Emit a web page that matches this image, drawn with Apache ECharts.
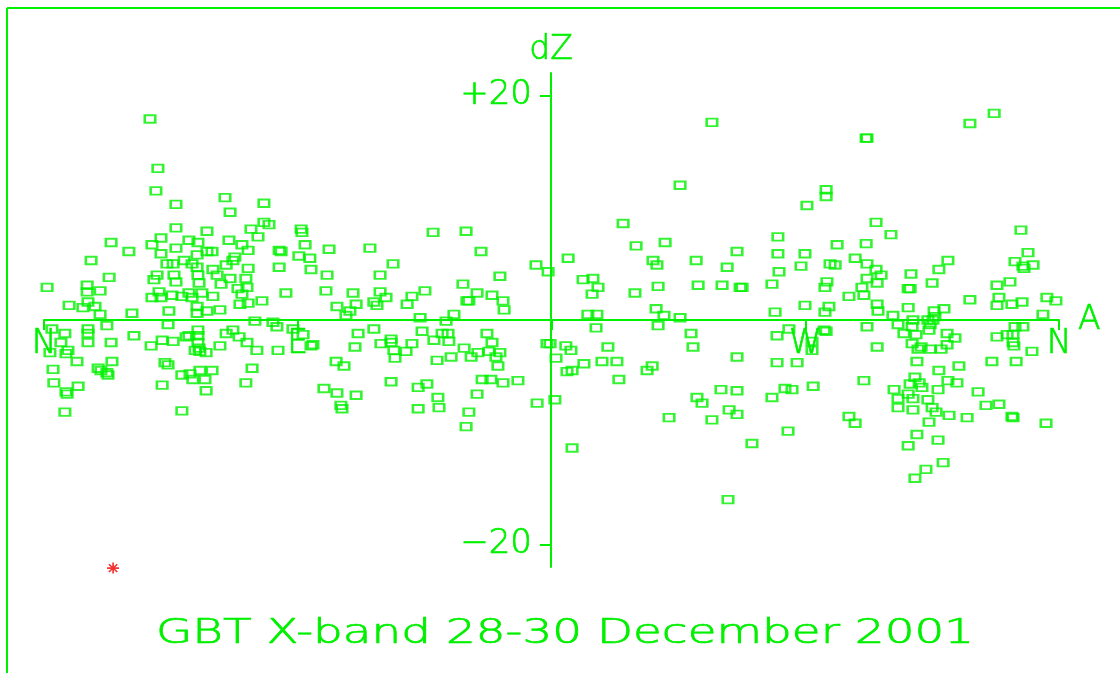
<!DOCTYPE html>
<html>
<head>
<meta charset="utf-8">
<script src="https://cdn.jsdelivr.net/npm/echarts@6/dist/echarts.min.js"></script>
<style>html,body{margin:0;padding:0;background:#ffffff}#chart{width:1120px;height:673px}</style>
</head>
<body>
<div id="chart"></div>
<script>
// Azimuth (degrees) of each pointing offset measurement
const azimuthDeg = [
37.6,40.4,39.7,46.8,64.2,78.0,66.0,46.8,57.8,78.0,
79.8,73.4,75.9,23.8,41.5,38.3,51.4,54.6,65.6,70.2,
30.1,46.8,41.5,57.8,59.6,72.4,83.4,84.1,16.7,49.7,
54.3,67.7,67.0,43.6,45.8,52.5,54.3,64.6,59.9,72.4,
83.4,23.1,40.1,46.1,54.6,61.4,66.0,71.6,39.0,46.8,
55.0,62.8,68.8,72.0,1.1,15.3,15.3,19.9,40.8,38.3,
41.5,45.4,48.9,51.4,52.5,56.0,59.9,70.2,85.8,8.9,
15.6,13.8,18.1,19.9,31.2,44.3,54.3,54.3,57.8,62.4,
69.5,72.4,77.3,74.8,81.2,2.8,7.4,6.0,15.6,15.6,
15.6,22.3,23.8,2.1,8.5,7.8,11.7,3.2,19.2,20.2,
24.1,22.3,22.7,3.5,12.1,7.8,8.2,7.4,31.9,38.0,
41.9,45.8,44.0,50.4,51.4,54.6,54.6,54.6,55.0,53.6,
55.3,57.5,62.4,64.6,67.0,69.2,72.0,75.5,82.6,83.0,
42.9,44.0,48.9,51.8,52.8,55.3,57.1,59.6,57.5,41.9,
48.9,73.8,71.6,91.2,91.5,92.6,90.4,94.3,94.7,101.1,
100.4,100.0,103.9,109.6,110.7,108.5,107.1,115.6,123.8,119.2,
119.2,121.3,117.0,118.1,130.5,128.8,135.1,133.4,138.0,149.7,
155.0,148.6,153.6,150.0,150.7,145.4,142.6,158.9,162.8,163.2,
161.7,174.5,178.8,88.3,91.9,94.7,95.4,111.4,117.0,110.3,
119.5,123.1,123.1,124.1,124.5,128.4,130.5,103.6,106.4,134.1,
138.3,141.2,143.3,143.6,139.4,144.4,149.0,151.5,153.9,157.1,
158.9,157.8,161.7,160.3,161.0,155.4,158.5,162.8,168.1,153.6,
99.3,103.9,110.7,105.3,105.7,123.1,132.7,135.8,139.7,140.1,
132.7,150.7,149.7,174.9,178.4,179.5,181.6,181.2,236.9,225.6,
270.6,277.4,277.4,205.4,260.3,210.0,220.3,245.8,185.9,216.0,
217.4,231.3,260.3,269.9,268.5,242.3,260.7,191.2,194.7,196.5,
194.4,209.6,217.8,232.0,240.5,246.9,247.6,258.2,269.9,259.3,
192.9,196.1,217.1,219.9,225.6,195.8,217.8,229.5,230.2,185.1,
186.9,185.5,187.3,191.5,200.0,197.9,203.2,203.9,213.9,215.7,
187.3,221.7,231.6,233.4,240.1,245.8,243.0,245.8,236.9,245.8,
260.0,264.2,260.0,267.1,272.4,272.4,276.7,258.2,262.8,265.3,
272.8,263.9,251.1,242.6,337.0,328.4,291.6,291.9,295.1,300.4,
281.3,291.6,346.5,349.0,287.7,291.9,278.8,280.6,320.6,317.4,
344.4,347.2,350.8,347.6,295.1,296.9,307.5,291.9,295.5,277.7,
277.0,290.1,290.8,285.5,306.5,307.2,315.0,338.0,342.6,338.7,
328.4,338.0,343.3,346.9,355.7,358.9,278.4,277.0,295.5,295.8,
306.5,301.1,319.2,315.7,354.3,308.2,307.9,313.5,315.3,314.3,
313.9,316.0,277.4,291.9,302.9,305.0,309.3,320.3,323.1,307.9,
311.1,310.0,314.3,318.2,320.3,309.6,295.5,338.0,341.6,344.4,
347.2,343.7,343.7,344.0,350.4,336.2,344.8,324.5,317.4,290.8,
308.9,307.2,310.4,311.4,320.6,323.8,301.5,317.1,306.5,302.9,
308.2,313.5,331.3,302.9,308.2,315.0,316.4,334.1,338.7,321.0,
327.4,313.9,285.5,287.7,343.3,343.7,355.4,309.6,306.5,317.1,
318.9,312.8,308.9
];

// Elevation offset dZ (arcsec) matching azimuthDeg
const dZarcsec = [
17.9,13.5,11.5,10.3,10.9,10.4,9.6,8.2,7.9,8.7,
8.5,8.1,7.4,6.9,7.3,6.7,7.1,6.9,7.1,6.7,
6.1,6.4,5.9,6.1,6.1,6.2,6.2,6.1,5.3,5.3,
5.8,5.6,5.3,5.0,5.0,5.0,4.7,4.9,4.5,4.6,
4.7,3.8,4.0,4.0,4.0,4.0,3.7,3.7,3.6,3.4,
3.3,3.2,2.8,2.9,2.9,3.1,2.5,2.6,2.5,2.0,
2.0,2.2,2.1,2.4,2.0,2.4,2.1,2.3,2.4,1.3,
1.6,1.1,1.2,0.5,0.6,0.8,1.2,0.6,0.8,0.9,
1.4,1.5,1.7,-0.1,-0.2,-0.8,-1.2,-2.0,-0.8,-1.2,
-2.0,-0.5,-2.0,-2.9,-2.7,-3.0,-3.7,-4.4,-4.3,-4.5,
-3.7,-4.7,-4.9,-5.6,-5.9,-6.4,-6.6,-8.2,-1.4,-2.3,
-1.8,-1.9,-0.4,-1.5,-1.4,-0.9,-1.4,-2.0,-2.5,-2.7,
-2.8,-2.9,-2.3,-1.2,-0.9,-1.5,-2.0,-2.7,-0.6,-2.7,
-3.8,-4.0,-4.9,-4.8,-5.3,-4.5,-5.3,-4.5,-6.3,-5.8,
-8.1,-4.3,-5.6,8.1,7.8,6.7,5.7,5.5,4.5,6.3,
4.0,2.6,1.2,2.4,1.4,0.8,0.4,6.4,5.0,4.0,
2.5,2.0,1.6,1.3,2.1,1.4,2.6,0.2,7.8,7.9,
6.1,3.2,2.4,1.7,1.7,0.5,-0.1,2.2,1.7,0.9,
3.9,4.9,4.3,-0.8,-1.3,-2.3,-2.2,-1.2,-0.8,-2.4,
-2.1,-1.7,-2.0,-2.7,-3.4,-2.8,-2.1,-3.7,-4.1,-1.0,
-1.8,-1.2,-1.2,-1.9,-3.6,-3.3,-2.5,-3.3,-2.9,-1.2,
-2.0,-2.8,-2.9,-3.3,-4.1,-5.3,-5.3,-5.6,-5.4,-6.6,
-6.1,-6.5,-6.7,-7.6,-7.9,-5.5,-6.0,-5.7,-6.9,-7.8,
-7.9,-8.2,-9.5,-7.4,-2.1,-2.1,-3.4,-7.1,17.6,12.0,
10.2,11.6,11.0,8.6,7.4,6.6,6.9,6.1,5.5,5.3,
4.9,5.3,5.9,5.9,4.8,4.7,4.3,3.6,3.7,2.9,
2.3,2.4,3.0,3.1,3.1,2.9,2.9,3.2,1.3,0.7,
0.5,0.5,1.0,0.4,0.2,-0.7,-0.5,-1.2,-2.4,-2.3,
-2.7,-4.6,-4.5,-3.9,-2.4,-3.7,-3.7,-5.3,-4.5,-4.1,
-11.4,-8.7,-6.9,-7.4,-6.2,-6.3,-8.0,-8.4,-8.9,-3.3,
-1.4,-0.8,-3.8,-3.8,-1.9,-2.7,-0.9,-6.9,-6.1,-6.2,
-5.9,-9.9,-11.0,-16.0,18.4,17.5,16.2,16.2,8.7,7.6,
6.7,6.8,8.0,6.0,5.5,5.0,5.0,4.9,5.3,4.5,
5.2,4.8,4.9,4.6,4.5,4.0,4.1,3.7,3.3,3.4,
2.9,2.9,2.2,2.1,2.8,2.8,3.3,3.1,3.4,2.0,
1.8,1.3,1.4,1.6,2.0,1.7,1.2,0.7,1.4,0.8,
1.1,0.4,1.0,0.8,0.5,0.0,-0.6,0.0,0.0,-0.4,
-0.9,0.3,-1.0,-0.6,-0.4,-1.2,-1.3,-1.2,-1.6,-2.1,
-2.4,-2.6,-2.6,-2.6,-2.2,-3.7,-2.4,-1.5,-1.3,-0.6,
-0.6,-1.3,-2.0,-2.3,-2.8,-3.7,-3.7,-4.1,-4.5,-5.4,
-5.1,-5.7,-5.6,-6.0,-5.4,-5.6,-6.2,-6.2,-6.6,-7.0,
-7.0,-7.1,-6.4,-7.8,-8.0,-7.8,-8.2,-7.6,-7.5,-8.5,
-8.7,-9.1,-8.6,-9.2,-8.6,-8.7,-9.2,-10.2,-11.2,-10.7,
-12.7,-13.3,-14.1
];

// Axis ticks and labels
const azTickValues = [0, 90, 180, 270, 360];
const azLabelValues = [0, 90, 270, 360];
const azLabelText = ['N', 'E', 'W', 'N'];
const dzTickValues = [-20, 20];
const dzLabelText = ['\u221220', '+20'];

// Red asterisk marker
const markerAz = [24.5];
const markerDz = [-22.1];

const titleText = 'GBT X-band 28-30 December 2001';
const xName = 'A';
const yName = 'dZ';

const GREEN = '#00f000';
const RED = '#ee0000';
const FONT = 'DejaVu Sans';

const chart = echarts.init(document.getElementById('chart'), null, { renderer: 'canvas' });

const textStyle = {
  color: GREEN, fontFamily: FONT, fontSize: 33, fontWeight: 200,
  textBorderColor: GREEN, textBorderWidth: 0.7
};

chart.setOption({
  backgroundColor: '#ffffff',
  animation: false,
  grid: { left: 44, right: 61, top: 73, bottom: 106, containLabel: false },
  xAxis: {
    type: 'value', min: 0, max: 360, position: 'bottom', offset: -247,
    name: xName, nameLocation: 'end', nameGap: 18,
    nameTextStyle: Object.assign({}, textStyle),
    axisLine: { show: true, onZero: false, lineStyle: { color: GREEN, width: 2 } },
    axisTick: { show: true, customValues: azTickValues, length: 10, inside: false, lineStyle: { color: GREEN, width: 2 } },
    axisLabel: Object.assign({
      show: true, customValues: azLabelValues, margin: 8,
      showMinLabel: true, showMaxLabel: true,
      formatter: function (v) { const i = azLabelValues.indexOf(v); return i >= 0 ? azLabelText[i] : ''; }
    }, textStyle),
    splitLine: { show: false }
  },
  yAxis: {
    type: 'value', min: -22, max: 22, position: 'left', offset: -507,
    name: yName, nameLocation: 'end', nameGap: 6,
    nameTextStyle: Object.assign({ align: 'center' }, textStyle),
    axisLine: { show: true, onZero: false, lineStyle: { color: GREEN, width: 2 } },
    axisTick: { show: true, customValues: dzTickValues, length: 11, inside: false, lineStyle: { color: GREEN, width: 2 } },
    axisLabel: Object.assign({
      show: true, customValues: dzTickValues, margin: 19,
      formatter: function (v) { const i = dzTickValues.indexOf(v); return i >= 0 ? dzLabelText[i] : ''; }
    }, textStyle, { fontSize: 34 }),
    splitLine: { show: false }
  },
  series: [
    {
      type: 'scatter', silent: true,
      data: azimuthDeg.map(function (a, i) { return [a, dZarcsec[i]]; }),
      symbol: 'rect', symbolSize: [10.5, 7.5],
      itemStyle: { color: 'rgba(0,0,0,0)', borderColor: GREEN, borderWidth: 2.2 },
      emphasis: { disabled: true }
    },
    {
      type: 'scatter', silent: true, clip: false,
      data: markerAz.map(function (a, i) { return [a, markerDz[i]]; }),
      symbol: 'path://M6,0L6,12M0,6L12,6M1.8,1.8L10.2,10.2M10.2,1.8L1.8,10.2',
      symbolSize: [12, 11],
      itemStyle: { color: RED, borderColor: RED, borderWidth: 1.6 },
      emphasis: { disabled: true }
    }
  ],
  graphic: [
    { type: 'line', silent: true, shape: { x1: 7, y1: 8, x2: 1120, y2: 8 }, style: { stroke: GREEN, lineWidth: 2 } },
    { type: 'line', silent: true, shape: { x1: 7, y1: 8, x2: 7, y2: 673 }, style: { stroke: GREEN, lineWidth: 2 } },
    {
      type: 'text', silent: true, x: 565, y: 634, scaleX: 1.42,
      style: {
        text: titleText, fill: GREEN, stroke: GREEN, lineWidth: 0.7,
        font: '200 33px "' + FONT + '"',
        textAlign: 'center', textVerticalAlign: 'middle', align: 'center', verticalAlign: 'middle'
      }
    }
  ]
});
</script>
</body>
</html>
